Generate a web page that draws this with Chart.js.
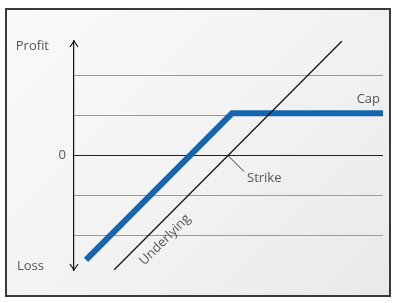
<!DOCTYPE html>
<html>
<head>
<meta charset="utf-8">
<script src="https://cdn.jsdelivr.net/npm/chart.js@4"></script>
<style>
  html, body { margin: 0; padding: 0; background: #fff; }
  #frame {
    position: absolute; left: 5px; top: 8px; width: 382px; height: 285px;
    border: 2px solid #3a3a3a;
    background: linear-gradient(135deg, #fafafa 0%, #f1f1f1 60%, #e9e9e9 100%);
  }
  #wrap { position: absolute; left: 0; top: 0; width: 398px; height: 303px; }
</style>
</head>
<body>
<div id="frame"></div>
<div id="wrap"><canvas id="myChart" width="398" height="303"></canvas></div>
<script>
// dati del grafico (unita' arbitrarie, 0 = strike / profitto nullo)
const payoffX = [0.3, 3.95, 7.725];      // linea blu con cap
const payoffY = [-2.6, 1.05, 1.05];
const underlyingX = [1.0, 6.7];          // sottostante
const underlyingY = [-2.85, 2.85];
const gridTicks = [-2, -1, 0, 1, 2];     // linee orizzontali
const axisLabels = ['Profit', '0', 'Loss'];
const capLabel = 'Cap';
const strikeLabel = 'Strike';
const underlyingLabel = 'Underlying';

const toPoints = (xs, ys) => xs.map((x, i) => ({ x: x, y: ys[i] }));

// testi, freccie e leader line
const annotations = {
  id: 'annotations',
  afterDraw: (chart) => {
    const { ctx, chartArea } = chart;
    const xs = chart.scales.x, ys = chart.scales.y;
    const ax = chartArea.left;
    ctx.save();
    // frecce asse
    ctx.strokeStyle = '#111';
    ctx.lineWidth = 1.2;
    ctx.beginPath();
    ctx.moveTo(ax - 4, chartArea.top + 6); ctx.lineTo(ax, chartArea.top); ctx.lineTo(ax + 4, chartArea.top + 6);
    ctx.moveTo(ax - 4, chartArea.bottom - 6); ctx.lineTo(ax, chartArea.bottom); ctx.lineTo(ax + 4, chartArea.bottom - 6);
    ctx.stroke();

    ctx.font = '13px "Open Sans"';
    ctx.fillStyle = '#555';
    ctx.textBaseline = 'middle';
    ctx.textAlign = 'right';
    ctx.fillText(axisLabels[0], ax - 25, ys.getPixelForValue(2.72));
    ctx.fillText(axisLabels[1], ax - 8, ys.getPixelForValue(0));
    ctx.fillText(axisLabels[2], ax - 30, ys.getPixelForValue(-2.75));
    ctx.fillText(capLabel, xs.getPixelForValue(7.65), ys.getPixelForValue(1.4));

    // strike
    ctx.strokeStyle = '#333';
    ctx.lineWidth = 1;
    ctx.beginPath();
    ctx.moveTo(xs.getPixelForValue(3.85), ys.getPixelForValue(0));
    ctx.lineTo(xs.getPixelForValue(4.25), ys.getPixelForValue(-0.4));
    ctx.stroke();
    ctx.textAlign = 'left';
    ctx.fillText(strikeLabel, xs.getPixelForValue(4.325), ys.getPixelForValue(-0.575));

    // underlying ruotato
    ctx.translate(xs.getPixelForValue(2.275), ys.getPixelForValue(-2.1));
    ctx.rotate(-Math.PI / 4);
    ctx.textAlign = 'center';
    ctx.fillText(underlyingLabel, 0, 0);
    ctx.restore();
  }
};

const ctx = document.getElementById('myChart');
new Chart(ctx, {
  type: 'line',
  data: {
    datasets: [
      {
        data: toPoints(underlyingX, underlyingY),
        borderColor: '#111',
        borderWidth: 1.3,
        pointRadius: 0
      },
      {
        data: toPoints(payoffX, payoffY),
        borderColor: '#1565b0',
        borderWidth: 6,
        pointRadius: 0,
        borderJoinStyle: 'miter'
      }
    ]
  },
  options: {
    responsive: false,
    animation: false,
    layout: { padding: { top: 41, bottom: 33, right: 15, left: 0 } },
    plugins: { legend: { display: false }, tooltip: { enabled: false } },
    scales: {
      x: { type: 'linear', min: 0, max: 7.725, display: false },
      y: {
        min: -2.85, max: 2.85,
        afterFit: (s) => { s.width = 74; },
        afterBuildTicks: (s) => { s.ticks = gridTicks.map(v => ({ value: v })); },
        ticks: { display: false },
        border: { display: true, color: '#111', width: 1.2 },
        grid: {
          drawTicks: false,
          color: (c) => c.tick && c.tick.value === 0 ? '#222' : '#9a9a9a',
          lineWidth: 1
        }
      }
    }
  },
  plugins: [annotations]
});
</script>
</body>
</html>
